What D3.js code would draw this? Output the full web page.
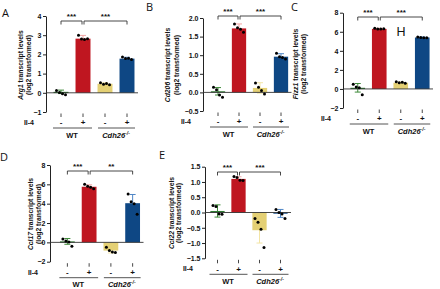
<!DOCTYPE html>
<html>
<head>
<meta charset="utf-8">
<script src="https://cdn.jsdelivr.net/npm/d3@7"></script>
<style>
  body { margin: 0; background: #fff; }
  svg { font-family: "Liberation Sans", Arial, sans-serif; }
  text { fill: #111; }
</style>
</head>
<body>
<div id="chart"></div>
<script>
// group order: WT -, WT +, Cdh26-/- -, Cdh26-/- +
const groups = ["WT-", "WT+", "KO-", "KO+"];
const il4Signs = ["-", "+", "-", "+"];
const barColors = ["#2f7d32", "#bf1620", "#e4d074", "#0e4784"];
const errColors = ["#3f8a3a", "#f2a5a5", "#f3e5a6", "#4f86c6"];

// Arg1
const arg1Mean = [0.05, 2.82, 0.47, 1.78];
const arg1Err = [0.09, 0.17, 0.05, 0.07];
const arg1Pts = [[0.12, 0.02, -0.05, -0.1], [3.0, 2.8, 2.78, 2.82], [0.52, 0.45, 0.48, 0.42], [1.86, 1.78, 1.8, 1.74]];
const arg1Ticks = [-1, 0, 1, 2, 3, 4];
const arg1Sig = ["***", "***"];

// Cd206
const cd206Mean = [0.03, 1.72, 0.12, 0.96];
const cd206Err = [0.1, 0.12, 0.14, 0.08];
const cd206Pts = [[0.14, 0.07, -0.07, -0.13], [1.84, 1.74, 1.7, 1.62], [0.25, 0.14, 0.05, -0.04], [1.05, 0.96, 0.94, 0.9]];
const cd206Ticks = [-0.5, 0.0, 0.5, 1.0, 1.5, 2.0];
const cd206Sig = ["***", "***"];

// Fizz1
const fizz1Mean = [0.12, 6.3, 0.65, 5.4];
const fizz1Err = [0.45, 0.06, 0.07, 0.05];
const fizz1Pts = [[0.5, 0.2, 0.12, -0.6], [6.38, 6.3, 6.28, 6.32], [0.76, 0.66, 0.7, 0.6], [5.46, 5.4, 5.38, 5.36]];
const fizz1Ticks = [-2, 0, 2, 4, 6, 8];
const fizz1Sig = ["***", "***"];

// Ccl17
const ccl17Mean = [0.1, 5.75, -0.85, 4.05];
const ccl17Err = [0.3, 0.2, 0.25, 0.9];
const ccl17Pts = [[0.35, 0.15, 0.05, -0.4], [6.0, 5.8, 5.7, 5.55], [-0.5, -0.85, -1.0, -1.05], [5.0, 4.2, 4.0, 2.9]];
const ccl17Ticks = [-2, 0, 2, 4, 6, 8];
const ccl17Sig = ["***", "**"];

// Ccl22
const ccl22Mean = [0.05, 1.1, -0.58, -0.03];
const ccl22Err = [0.2, 0.07, 0.42, 0.13];
const ccl22Pts = [[0.23, 0.2, -0.05, -0.06], [1.18, 1.15, 1.06, 1.05], [-0.2, -0.32, -0.55, -1.15], [0.1, 0.0, -0.05, -0.2]];
const ccl22Ticks = [-1.5, -1.0, -0.5, 0.0, 0.5, 1.0, 1.5];
const ccl22Sig = ["***", "***"];

const W = 440, H = 289;
const svg = d3.select("#chart").append("svg")
    .attr("width", W)
    .attr("height", H);

// panel layout (pixel positions only)
const panels = [
    { letter: "A", gene: "Arg1", mean: arg1Mean, err: arg1Err, pts: arg1Pts, ticks: arg1Ticks, sig: arg1Sig, fmt: d3.format("d"),
      axisX: 46, yTop: 16, yBot: 112, xr: [50, 138], labX: [21, 29], labY: 65, letterXY: [2, 17], brY: 21 },
    { letter: "B", gene: "Cd206", mean: cd206Mean, err: cd206Err, pts: cd206Pts, ticks: cd206Ticks, sig: cd206Sig, fmt: d3.format(".1f"),
      axisX: 203, yTop: 18, yBot: 111, xr: [207.5, 291.5], labX: [168, 177], labY: 65, letterXY: [146, 11], brY: 16 },
    { letter: "C", gene: "Fizz1", mean: fizz1Mean, err: fizz1Err, pts: fizz1Pts, ticks: fizz1Ticks, sig: fizz1Sig, fmt: d3.format("d"),
      axisX: 343, yTop: 12.7, yBot: 108, xr: [347, 433], labX: [296, 304], labY: 64, letterXY: [291, 11], brY: 17 },
    { letter: "D", gene: "Ccl17", mean: ccl17Mean, err: ccl17Err, pts: ccl17Pts, ticks: ccl17Ticks, sig: ccl17Sig, fmt: d3.format("d"),
      axisX: 50, yTop: 165, yBot: 261.7, xr: [56.5, 143.5], labX: [31, 39], labY: 214, letterXY: [0, 161], brY: 171 },
    { letter: "E", gene: "Ccl22", mean: ccl22Mean, err: ccl22Err, pts: ccl22Pts, ticks: ccl22Ticks, sig: ccl22Sig, fmt: d3.format(".1f"),
      axisX: 205, yTop: 166.7, yBot: 258.3, xr: [207, 291], labX: [172, 179], labY: 213, letterXY: [159, 158.5], brY: 172 }
];

const dotOffsets = [-4.5, -1.5, 1.5, 4.5];

panels.forEach(p => {
    const g = svg.append("g");

    const y = d3.scaleLinear()
        .domain([p.ticks[0], p.ticks[p.ticks.length - 1]])
        .range([p.yBot, p.yTop]);

    const x = d3.scaleBand()
        .domain(groups)
        .range(p.xr)
        .paddingInner(0.32)
        .paddingOuter(0.16);
    const cx = d => x(d) + x.bandwidth() / 2;

    // panel letter
    g.append("text")
        .attr("x", p.letterXY[0])
        .attr("y", p.letterXY[1])
        .style("font-size", "11px")
        .style("font-family", "'Open Sans', 'Liberation Sans', sans-serif")
        .text(p.letter);

    // y axis
    const yAxis = g.append("g")
        .attr("transform", "translate(" + p.axisX + ",0)")
        .call(d3.axisLeft(y).tickValues(p.ticks).tickFormat(p.fmt).tickSize(3).tickSizeOuter(0));
    yAxis.selectAll("text")
        .style("font-size", "7px")
        .style("font-weight", "bold")
        .style("fill", "#111")
        .attr("x", -4.5);
    yAxis.selectAll("path, line").attr("stroke", "#222");

    // y axis title
    const t1 = g.append("text")
        .attr("transform", "translate(" + p.labX[0] + "," + p.labY + ") rotate(-90)")
        .attr("text-anchor", "middle")
        .attr("dy", "0.35em")
        .style("font-size", "6.8px")
        .style("font-weight", "bold");
    t1.append("tspan").style("font-style", "italic").text(p.gene);
    t1.append("tspan").text(" transcript levels");
    g.append("text")
        .attr("transform", "translate(" + p.labX[1] + "," + p.labY + ") rotate(-90)")
        .attr("text-anchor", "middle")
        .attr("dy", "0.35em")
        .style("font-size", "6.8px")
        .style("font-weight", "bold")
        .text("(log2 transformed)");

    // error bars (drawn behind bars)
    groups.forEach((grp, i) => {
        const lo = y(p.mean[i] - p.err[i]), hi = y(p.mean[i] + p.err[i]);
        const c = cx(grp);
        g.append("line")
            .attr("x1", c).attr("x2", c).attr("y1", lo).attr("y2", hi)
            .attr("stroke", errColors[i]).attr("stroke-width", 1);
        [lo, hi].forEach(v => {
            g.append("line")
                .attr("x1", c - 3).attr("x2", c + 3).attr("y1", v).attr("y2", v)
                .attr("stroke", errColors[i]).attr("stroke-width", 1);
        });
    });

    // bars
    g.selectAll(".bar")
        .data(groups)
        .enter()
        .append("rect")
        .attr("x", d => x(d))
        .attr("width", x.bandwidth())
        .attr("y", (d, i) => Math.min(y(p.mean[i]), y(0)))
        .attr("height", (d, i) => Math.max(1.2, Math.abs(y(p.mean[i]) - y(0))))
        .attr("fill", (d, i) => barColors[i]);

    // zero line
    g.append("line")
        .attr("x1", p.axisX).attr("x2", p.xr[1])
        .attr("y1", y(0)).attr("y2", y(0))
        .attr("stroke", "#333").attr("stroke-width", 0.9);

    // individual points
    groups.forEach((grp, i) => {
        g.selectAll(null)
            .data(p.pts[i])
            .enter()
            .append("circle")
            .attr("cx", (d, j) => cx(grp) + dotOffsets[j])
            .attr("cy", d => y(d))
            .attr("r", 1.5)
            .attr("fill", "#000");
    });

    // significance brackets
    const pairs = [[0, 1], [1, 3]];
    pairs.forEach((pr, k) => {
        const xa = cx(groups[pr[0]]) + (k === 1 ? 1 : 0);
        const xb = cx(groups[pr[1]]) - (k === 0 ? 1 : 0);
        g.append("path")
            .attr("d", "M" + xa + "," + (p.brY + 3.5) + "V" + p.brY + "H" + xb + "V" + (p.brY + 3.5))
            .attr("fill", "none")
            .attr("stroke", "#333")
            .attr("stroke-width", 0.9);
        g.append("text")
            .attr("x", (xa + xb) / 2)
            .attr("y", p.brY - 2)
            .attr("text-anchor", "middle")
            .style("font-size", "8px")
            .style("font-weight", "bold")
            .text(p.sig[k]);
    });

    // x tick marks and Il-4 row
    groups.forEach((grp, i) => {
        g.append("line")
            .attr("x1", cx(grp)).attr("x2", cx(grp))
            .attr("y1", p.yBot + 1.5).attr("y2", p.yBot + 5)
            .attr("stroke", "#333").attr("stroke-width", 0.9);
        g.append("text")
            .attr("x", cx(grp))
            .attr("y", p.yBot + 10.5)
            .attr("dy", "0.35em")
            .attr("text-anchor", "middle")
            .style("font-size", "8px")
            .style("font-weight", "bold")
            .text(il4Signs[i]);
    });
    g.append("text")
        .attr("x", p.axisX - 12)
        .attr("y", p.yBot + 10.5)
        .attr("dy", "0.35em")
        .attr("text-anchor", "end")
        .style("font-size", "7px")
        .style("font-weight", "bold")
        .text("Il-4");

    // genotype group lines
    const c0 = cx(groups[0]), c1 = cx(groups[1]), c2 = cx(groups[2]), c3 = cx(groups[3]);
    g.append("line")
        .attr("x1", c0 - 8).attr("x2", c1 + 9)
        .attr("y1", p.yBot + 16).attr("y2", p.yBot + 16)
        .attr("stroke", "#555").attr("stroke-width", 1);
    g.append("line")
        .attr("x1", c2 - 7).attr("x2", c3 + 8)
        .attr("y1", p.yBot + 16).attr("y2", p.yBot + 16)
        .attr("stroke", "#555").attr("stroke-width", 1);
    g.append("text")
        .attr("x", (c0 + c1) / 2)
        .attr("y", p.yBot + 23)
        .attr("dy", "0.35em")
        .attr("text-anchor", "middle")
        .style("font-size", "7.5px")
        .style("font-weight", "bold")
        .text("WT");
    const ko = g.append("text")
        .attr("x", (c2 + c3) / 2)
        .attr("y", p.yBot + 23)
        .attr("dy", "0.35em")
        .attr("text-anchor", "middle")
        .style("font-size", "7.5px")
        .style("font-weight", "bold")
        .style("font-style", "italic");
    ko.append("tspan").text("Cdh26");
    ko.append("tspan").attr("dy", "-3").style("font-size", "5px").text("-/-");

    // stray "H" mark seen in panel C
    if (p.letter === "C") {
        g.append("text")
            .attr("x", 401)
            .attr("y", 35.5)
            .attr("text-anchor", "middle")
            .style("font-size", "12.5px")
            .text("H");
    }
});
</script>
</body>
</html>
